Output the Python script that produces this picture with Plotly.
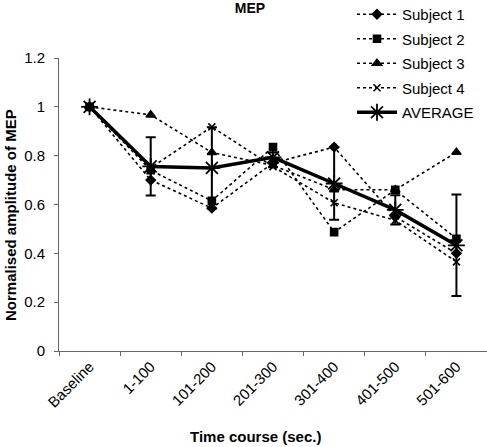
import plotly.graph_objects as go

categories = ["Baseline", "1-100", "101-200", "201-300", "301-400", "401-500", "501-600"]
subject1 = [1.0, 0.70, 0.585, 0.77, 0.835, 0.55, 0.40]
subject2 = [1.0, 0.74, 0.615, 0.835, 0.487, 0.66, 0.46]
subject3 = [1.0, 0.967, 0.813, 0.76, 0.661, 0.66, 0.814]
subject4 = [1.0, 0.75, 0.918, 0.755, 0.607, 0.535, 0.365]
average = [1.0, 0.756, 0.75, 0.793, 0.686, 0.578, 0.433]
average_err = [0.0, 0.119, 0.166, 0.02, 0.148, 0.06, 0.208]

y_ticks = [0, 0.2, 0.4, 0.6, 0.8, 1, 1.2]
y_tick_labels = ["0", "0.2", "0.4", "0.6", "0.8", "1", "1.2"]

FONT = "Liberation Sans, Arial, sans-serif"

L, R_EDGE, T, B = 59, 487, 58, 351
PW, PH = R_EDGE - L, B - T

fig = go.Figure()

subjects = [
    ("Subject 1", subject1, "diamond", 7),
    ("Subject 2", subject2, "square", 7),
    ("Subject 3", subject3, "triangle-up", 8),
    ("Subject 4", subject4, "x-thin-open", 7),
]
for name, vals, sym, size in subjects:
    fig.add_trace(go.Scatter(
        x=categories, y=vals, name=name, mode="lines+markers",
        line=dict(color="black", width=1.6, dash="dot"),
        marker=dict(symbol=sym, size=size, color="black",
                    line=dict(color="black", width=1.6)),
        legendgroup=name,
    ))

fig.add_trace(go.Scatter(
    x=categories, y=average, name="AVERAGE", mode="lines+markers",
    line=dict(color="black", width=3.5),
    marker=dict(symbol="asterisk-open", size=14, color="black",
                line=dict(color="black", width=1.8)),
    error_y=dict(type="data", array=average_err, visible=True,
                 color="black", thickness=2, width=5),
    legendgroup="AVERAGE",
))

fig.update_layout(
    template="none",
    width=487, height=447,
    margin=dict(l=L, r=487 - R_EDGE, t=T, b=447 - B, autoexpand=False),
    plot_bgcolor="white", paper_bgcolor="white",
    font=dict(family=FONT, color="black", size=14),
    title=dict(text="<b>MEP</b>", x=250/487, xref="container", xanchor="center",
               y=1 - 8/447, yref="container", yanchor="middle",
               font=dict(size=14, family=FONT, color="black")),
    showlegend=True,
    legend=dict(xref="paper", yref="paper", x=(352 - L) / PW, y=(B + 2) / PH,
                xanchor="left", yanchor="top", bgcolor="rgba(255,255,255,0)",
                borderwidth=0,
                font=dict(size=15, family=FONT, color="black"),
                tracegroupgap=2, itemwidth=40),
    xaxis=dict(type="category", range=[-0.5, 6.5], showline=True, linecolor="#666",
               linewidth=1, ticks="outside", tickson="boundaries", ticklen=4,
               tickcolor="#666", tickangle=-45, showgrid=False, zeroline=False,
               automargin=False, mirror=False,
               tickfont=dict(size=15, family=FONT, color="black")),
    yaxis=dict(range=[0, 1.2], tickvals=y_ticks, ticktext=y_tick_labels,
               showline=True, linecolor="#666", linewidth=1, ticks="outside",
               ticklen=4, tickcolor="#666", showgrid=False, zeroline=False,
               automargin=False, mirror=False, ticklabelstandoff=6,
               tickfont=dict(size=15, family=FONT, color="black")),
    annotations=[
        dict(text="<b>Time course (sec.)</b>", xref="paper", yref="paper",
             x=(255 - L) / PW, y=(B - 436) / PH, showarrow=False,
             font=dict(size=15, family=FONT, color="black"),
             xanchor="center", yanchor="middle"),
        dict(text="<b>Normalised amplitude of MEP</b>", xref="paper", yref="paper",
             x=(10 - L) / PW, y=(B - 215) / PH, textangle=-90, showarrow=False,
             font=dict(size=15, family=FONT, color="black"),
             xanchor="center", yanchor="middle"),
    ],
)

fig.write_html("out.html",
               config={"displayModeBar": False},
               post_script="document.body.style.margin='0';document.body.style.padding='0';")
